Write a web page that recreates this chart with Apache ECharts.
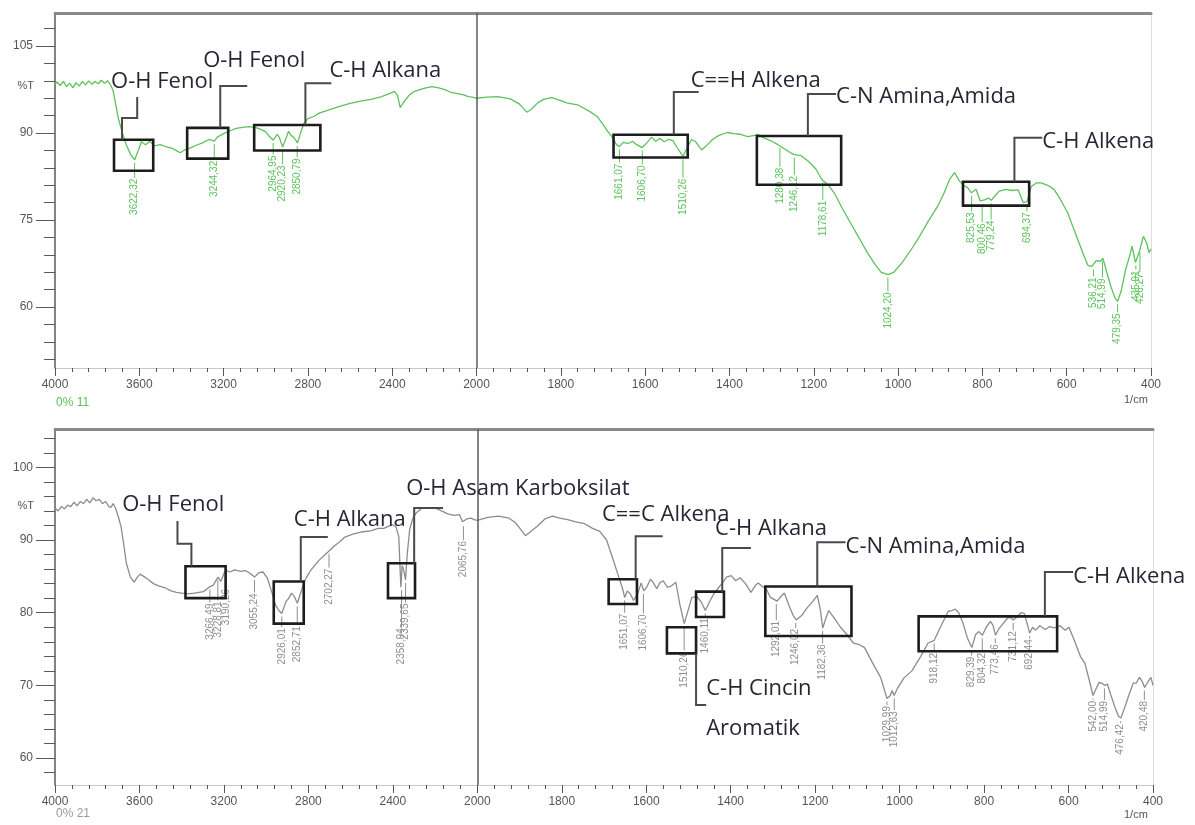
<!DOCTYPE html>
<html><head><meta charset="utf-8">
<script src="https://cdn.jsdelivr.net/npm/echarts@6/dist/echarts.min.js"></script>
<style>html,body{margin:0;padding:0;background:#fff}#c{width:1195px;height:825px}</style>
</head><body><div id="c"></div>
<script>
// ---------- DATA ----------
const topSpectrum = [
[4000,98.4],[3990,98.8],[3975,98.2],[3960,98.9],[3945,98.0],[3930,98.6],[3915,97.8],[3900,98.7],[3885,98.1],[3870,98.9],[3855,98.3],[3840,99.0],[3825,98.4],[3810,98.9],[3795,98.5],[3780,99.1],[3765,98.6],[3750,99.0],[3735,98.2],[3725,97.4],[3715,95.5],[3700,92.6],[3680,90.0],[3660,87.8],[3640,86.2],[3622,85.4],[3605,87.0],[3590,88.5],[3570,88.0],[3550,88.6],[3530,87.8],[3500,88.0],[3470,87.6],[3440,87.3],[3420,86.9],[3405,86.6],[3390,87.0],[3360,87.4],[3330,87.9],[3300,88.3],[3270,88.9],[3244,88.6],[3230,89.3],[3200,89.9],[3170,90.4],[3140,90.8],[3110,91.0],[3080,91.1],[3050,91.0],[3020,90.6],[3000,90.2],[2985,89.5],[2965,88.8],[2945,89.8],[2935,89.2],[2920,87.6],[2905,89.0],[2892,90.3],[2880,89.6],[2865,89.2],[2850,88.3],[2835,90.0],[2820,91.6],[2800,92.5],[2770,92.9],[2750,93.4],[2700,94.0],[2650,94.6],[2600,95.1],[2550,95.5],[2500,95.8],[2450,96.3],[2420,96.7],[2390,97.2],[2375,96.5],[2362,94.4],[2345,95.4],[2320,96.5],[2300,97.1],[2270,97.5],[2240,97.8],[2210,98.0],[2180,97.8],[2150,97.5],[2120,97.0],[2090,96.8],[2060,96.6],[2040,96.3],[2020,96.2],[2000,96.0],[1975,96.2],[1950,96.3],[1920,95.9],[1898,95.0],[1881,93.6],[1870,94.1],[1855,95.2],[1841,95.8],[1822,96.1],[1800,95.6],[1786,95.2],[1758,94.8],[1731,93.7],[1713,92.8],[1700,91.5],[1690,90.4],[1678,89.3],[1668,88.0],[1661,87.7],[1652,88.4],[1640,88.2],[1630,88.6],[1620,88.0],[1607,87.5],[1595,88.4],[1585,89.3],[1575,88.6],[1565,89.1],[1555,88.5],[1545,88.9],[1534,88.7],[1525,87.6],[1515,86.5],[1510,86.0],[1500,87.5],[1490,88.9],[1480,88.5],[1466,87.1],[1455,87.8],[1440,88.9],[1425,89.6],[1405,90.1],[1390,89.9],[1375,89.8],[1357,89.4],[1340,89.6],[1333,89.8],[1320,89.2],[1300,88.6],[1285,88.0],[1270,87.3],[1255,86.6],[1246,86.3],[1230,86.1],[1212,85.1],[1195,83.8],[1181,82.0],[1165,81.0],[1150,79.5],[1130,76.7],[1108,73.9],[1090,71.6],[1073,69.4],[1055,67.4],[1040,66.0],[1024,65.6],[1010,66.0],[990,67.7],[970,69.8],[953,71.7],[930,74.6],[906,77.4],[890,79.8],[878,82.0],[866,83.2],[855,81.8],[845,81.0],[835,80.6],[826,79.7],[815,80.3],[805,78.3],[795,78.5],[785,78.8],[779,78.4],[770,79.2],[760,80.0],[745,80.3],[730,80.1],[715,80.2],[703,78.0],[694,78.2],[684,80.8],[672,81.4],[661,81.4],[645,81.0],[630,80.3],[615,78.6],[598,76.3],[586,74.0],[574,71.7],[562,69.4],[550,67.2],[540,67.0],[530,68.0],[520,67.9],[514,68.4],[505,66.0],[495,63.5],[485,61.5],[479,61.0],[470,63.0],[460,66.5],[450,69.0],[445,70.5],[437,67.7],[428,69.5],[418,72.2],[410,71.0],[405,69.4],[400,70.0]
];
const bottomSpectrum = [
[4000,94.4],[3985,94.0],[3970,94.6],[3955,94.3],[3940,94.8],[3925,94.6],[3910,95.2],[3895,94.7],[3880,95.3],[3865,95.0],[3850,95.6],[3835,95.1],[3820,95.8],[3805,95.4],[3790,95.6],[3775,95.0],[3760,95.3],[3745,94.6],[3734,94.5],[3725,95.0],[3715,94.5],[3700,93.2],[3687,91.8],[3675,89.5],[3662,86.8],[3643,84.9],[3625,84.2],[3610,84.9],[3597,85.3],[3580,85.0],[3560,84.6],[3534,84.0],[3510,83.7],[3477,83.4],[3450,83.0],[3425,82.8],[3400,82.7],[3370,82.6],[3340,82.7],[3297,82.9],[3266,83.6],[3250,83.8],[3240,84.3],[3228,84.9],[3215,84.3],[3200,85.4],[3190,85.8],[3170,85.6],[3150,85.9],[3120,85.7],[3098,85.8],[3075,85.4],[3055,84.9],[3035,85.5],[3015,85.6],[2995,84.8],[2975,83.0],[2955,81.0],[2940,80.3],[2926,79.9],[2915,80.8],[2905,81.6],[2895,81.9],[2880,82.7],[2866,82.2],[2852,81.3],[2838,82.6],[2820,84.2],[2808,84.9],[2790,85.8],[2770,86.5],[2750,87.2],[2720,88.0],[2702,88.5],[2680,89.1],[2650,89.8],[2627,90.4],[2590,90.8],[2550,91.1],[2500,91.3],[2470,91.6],[2442,91.6],[2420,91.9],[2400,92.1],[2385,91.8],[2372,90.5],[2362,83.5],[2356,86.5],[2348,85.8],[2340,84.5],[2332,88.0],[2320,91.5],[2305,93.0],[2290,93.7],[2262,94.4],[2230,94.4],[2200,94.4],[2170,94.0],[2140,93.6],[2110,93.4],[2085,93.5],[2070,92.5],[2062,92.3],[2050,92.9],[2030,93.0],[2015,92.8],[2000,92.7],[1975,93.1],[1950,93.3],[1925,93.0],[1910,92.4],[1895,91.3],[1886,90.6],[1875,91.1],[1858,91.9],[1840,92.9],[1822,93.3],[1805,93.0],[1786,92.8],[1767,92.5],[1748,92.3],[1727,91.6],[1710,91.2],[1694,90.0],[1680,87.6],[1665,84.9],[1657,83.5],[1651,82.1],[1645,83.0],[1638,82.6],[1630,81.7],[1620,82.6],[1612,84.1],[1606,83.0],[1598,83.6],[1590,84.6],[1584,84.2],[1575,83.3],[1568,84.1],[1560,84.4],[1550,83.5],[1540,83.7],[1530,84.2],[1520,81.0],[1510,78.5],[1500,80.5],[1492,82.1],[1480,82.2],[1470,81.5],[1460,80.3],[1450,81.5],[1440,82.6],[1428,83.5],[1418,84.2],[1410,84.9],[1399,85.1],[1388,84.4],[1378,84.8],[1365,84.0],[1352,82.8],[1342,83.7],[1335,84.1],[1325,83.6],[1315,83.2],[1306,82.1],[1290,81.6],[1280,82.3],[1273,82.7],[1262,81.0],[1252,79.6],[1245,79.0],[1232,79.6],[1220,80.6],[1205,81.6],[1195,82.4],[1188,80.5],[1182,77.9],[1176,79.0],[1168,80.3],[1155,79.3],[1140,78.0],[1125,77.0],[1109,75.8],[1095,75.6],[1083,75.2],[1065,73.2],[1045,71.1],[1035,69.2],[1030,68.2],[1022,68.6],[1018,69.3],[1013,68.6],[1005,69.6],[990,71.0],[971,72.0],[950,74.0],[933,75.8],[918,76.2],[910,77.2],[895,79.0],[885,80.2],[876,80.3],[868,80.5],[860,80.0],[850,78.6],[840,76.6],[829,75.2],[820,77.0],[812,77.4],[804,76.9],[795,78.0],[785,78.8],[779,78.3],[773,76.9],[765,77.8],[755,78.5],[745,79.2],[739,79.4],[731,79.0],[722,79.4],[713,80.0],[705,79.9],[698,78.5],[692,77.2],[685,78.0],[678,77.6],[668,78.2],[655,77.7],[645,78.1],[634,77.9],[620,78.2],[608,77.6],[599,78.0],[585,76.0],[572,74.0],[561,73.0],[550,70.5],[542,68.6],[535,69.5],[528,70.4],[521,70.3],[514,70.0],[508,70.2],[500,68.7],[490,67.0],[482,65.8],[476,65.5],[468,66.8],[458,68.5],[447,70.3],[440,70.3],[432,71.1],[425,70.5],[420,69.7],[412,70.5],[405,71.1],[400,70.0]
];
// peak labels: [text, wavenumber, %T at peak, %T at top of label]
const topPeaks = [
['3622,32',3622.32,85.4,82.3],['3244,32',3244.32,88.6,85.4],['2964,95',2964.95,88.8,86.3],['2920,23',2920.23,87.6,84.6],['2850,79',2850.79,88.3,85.8],
['1661,07',1661.07,87.7,84.9],['1606,70',1606.70,87.5,84.6],['1510,26',1510.26,86.0,82.3],['1280,38',1280.38,88.0,84.2],['1246,12',1246.12,86.3,82.8],['1178,61',1178.61,82.0,78.5],
['1024,20',1024.20,65.6,62.7],['825,53',825.53,79.7,76.5],['800,46',800.46,78.3,74.6],['779,24',779.24,78.4,75.1],['694,37',694.37,78.2,76.5],
['536,21',536.21,67.0,65.3],['514,99',514.99,68.4,65.1],['479,35',479.35,61.0,59.1],['435,91',435.91,67.7,66.5],['426,27',426.27,70.0,66.0]
];
const bottomPeaks = [
['3266,49',3266.49,83.6,81.4],['3228,81',3228.81,84.9,81.7],['3190,26',3190.26,85.8,83.4],['3055,24',3055.24,84.9,82.8],['2926,01',2926.01,79.9,78.0],['2852,71',2852.71,81.3,78.3],
['2702,27',2702.27,88.5,86.2],['2358,94',2358.94,83.5,78.0],['2339,65',2339.65,84.5,81.4],['2065,76',2065.76,92.3,90.0],
['1651,07',1651.07,82.1,80.0],['1606,70',1606.70,83.0,79.9],['1510,26',1510.26,78.5,74.8],['1460,11',1460.11,80.3,79.4],['1292,01',1292.01,81.6,79.0],['1246,02',1246.02,79.0,77.9],['1182,36',1182.36,77.9,75.8],
['1029,99',1029.99,68.2,67.3],['1012,63',1012.63,68.6,66.6],['918,12',918.12,76.2,74.6],['829,39',829.39,75.2,74.1],['804,32',804.32,76.9,74.6],['773,46',773.46,76.9,75.8],['731,12',731.12,79.0,77.6],['692,44',692.44,77.2,76.5],
['542,00',542.00,68.6,68.0],['514,99',514.99,70.0,68.0],['476,42',476.42,65.5,64.8],['420,48',420.48,69.7,68.0]
];
// annotation boxes: [w1, %T1, w2, %T2]
const topBoxes = [[3720,88.85,3534,83.5],[3373,90.9,3178,85.6],[3055,91.4,2741,87.0],[1675,89.7,1499,85.8],[1335,89.5,1135,81.1],[846,81.6,689,77.5]];
const bottomBoxes = [[3382,86.4,3192,82.0],[2964,84.3,2822,78.5],[2423,86.8,2295,82.0],[1689,84.6,1622,81.2],[1551,78.0,1482,74.4],[1482,82.9,1416,79.4],[1318,83.6,1114,76.8],[955,79.5,627,74.7]];
// leader lines: list of [w, %T] points
const topLeaders = [
[[3682,88.85],[3682,92.6],[3610,92.6],[3610,96.2]],
[[3216,90.9],[3216,98.1],[3088,98.1]],
[[2812,91.4],[2812,98.6],[2689,98.6]],
[[1532,89.7],[1532,97.1],[1473,97.1]],
[[1214,89.5],[1214,96.75],[1147,96.75]],
[[724,81.6],[724,89.2],[658,89.2]]
];
const bottomLeaders = [
[[3354,86.4],[3354,89.5],[3420,89.5],[3420,92.6]],
[[2836,84.3],[2836,90.4],[2708,90.4]],
[[2299,86.8],[2299,94.4],[2162,94.4]],
[[1625,84.6],[1625,90.5],[1561,90.5]],
[[1482,74.4],[1482,67.3],[1458,67.3]],
[[1420,82.9],[1420,88.9],[1352,88.9]],
[[1195,83.6],[1195,89.7],[1128,89.7]],
[[656,79.5],[656,85.6],[589,85.6]]
];
// annotation texts: [text, w at left edge, %T at middle]
const topNotes = [['O-H Fenol',3734,98.8],['O-H Fenol',3297,102.4],['C-H Alkana',2698,100.7],['C==H Alkena',1492,99.0],['C-N Amina,Amida',1147,96.2],['C-H Alkena',658,88.5]];
const bottomNotes = [['O-H Fenol',3682,94.9],['C-H Alkana',2869,92.85],['O-H Asam Karboksilat',2337,97.1],['C==C Alkena',1705,93.5],['C-H Alkana',1437,91.5],['C-N Amina,Amida',1128,89.1],['C-H Alkena',589,85.0],['C-H Cincin',1458,69.5],['Aromatik',1458,64.0]];
// axis ranges and ticks
const xTickLabels = [4000,3600,3200,2800,2400,2000,1800,1600,1400,1200,1000,800,600,400];
const topYRange = [49.5,110.7];
const topYLabels = [60,75,90,105];
const topYMinor = [51,54,57,63,66,69,72,78,81,84,87,93,96,99,102,108];
const bottomYRange = [56.3,105.27];
const bottomYLabels = [60,70,80,90,100];
const bottomYMinor = [58,62,64,66,68,72,74,76,78,82,84,86,88,92,94,96,98,102,104];

// ---------- SCALE (piecewise wavenumber axis: 2x expanded below 2000) ----------
const toT = w => w >= 2000 ? (2000 - w) / 2 : 2000 - w;
const fromT = t => t < 0 ? 2000 - 2 * t : 2000 - t;

const GREEN = '#5cc25c', GRAY = '#8c8c8c', INK = '#555';
const NOTE_FONT = '22px "Open Sans"';
const PEAK_FONT = '10px "Liberation Sans", Arial';

function xAxes(gi) {
  return [{
    gridIndex: gi, type: 'value', min: toT(4000), max: toT(400), interval: 200,
    axisLine: {show: true, onZero: false, lineStyle: {color: '#c8c8c8', width: 1}},
    axisTick: {show: true, length: 8, lineStyle: {color: INK}},
    minorTick: {show: true, splitNumber: 5, length: 4, lineStyle: {color: INK}},
    axisLabel: {color: INK, fontSize: 12, margin: 11, fontFamily: 'Liberation Sans',
      formatter: v => { const w = Math.round(fromT(v)); return xTickLabels.indexOf(w) >= 0 ? String(w) : ''; }},
    splitLine: {show: false}, minorSplitLine: {show: false}
  }, {
    gridIndex: gi, type: 'value', position: 'top', min: toT(4000), max: toT(400),
    axisLine: {show: true, onZero: false, lineStyle: {color: '#8a8a8a', width: 3}},
    axisTick: {show: false}, axisLabel: {show: false}, splitLine: {show: false}
  }];
}
function yAxes(gi, range, labels, minor) {
  return [{
    gridIndex: gi, type: 'value', position: 'left', min: range[0], max: range[1],
    axisLine: {show: true, onZero: false, lineStyle: {color: '#5a5a5a', width: 1.5}},
    axisTick: {show: true, length: 19, customValues: labels, lineStyle: {color: '#5a5a5a'}},
    axisLabel: {customValues: labels, margin: 22, color: INK, fontSize: 12, fontFamily: 'Liberation Sans'},
    splitLine: {show: false}
  }, {
    gridIndex: gi, type: 'value', position: 'left', offset: 0, min: range[0], max: range[1],
    axisLine: {show: false, onZero: false},
    axisTick: {show: true, length: 11, customValues: minor, lineStyle: {color: '#5a5a5a'}},
    axisLabel: {show: false}, splitLine: {show: false}
  }, {
    gridIndex: gi, type: 'value', position: 'right', min: range[0], max: range[1],
    axisLine: {show: true, onZero: false, lineStyle: {color: '#dedede'}},
    axisTick: {show: false}, axisLabel: {show: false}, splitLine: {show: false}
  }];
}

function spectrumSeries(data, xi, yi, color) {
  return {
    type: 'line', xAxisIndex: xi, yAxisIndex: yi, symbol: 'none', silent: true,
    data: data.map(p => [toT(p[0]), p[1]]),
    lineStyle: {color: color, width: 1.3},
    markLine: {silent: true, symbol: 'none', label: {show: false},
      lineStyle: {color: '#5a5a5a', width: 1.5, type: 'solid'}, data: [{xAxis: 0}]}
  };
}
function peakSeries(peaks, xi, yi, color) {
  return {
    type: 'custom', xAxisIndex: xi, yAxisIndex: yi, silent: true, z: 4,
    data: peaks.map(p => [toT(p[1]), p[2], p[3]]),
    encode: {x: 0, y: [1, 2]},
    renderItem: (params, api) => {
      const p = peaks[params.dataIndex];
      const a = api.coord([api.value(0), api.value(1)]);
      const b = api.coord([api.value(0), api.value(2)]);
      const kids = [];
      if (b[1] > a[1] + 3) kids.push({type: 'line', shape: {x1: a[0], y1: a[1] + 3, x2: b[0], y2: b[1]}, style: {stroke: color, lineWidth: 1}});
      kids.push({type: 'text', x: b[0], y: b[1] + 1, rotation: Math.PI / 2,
        style: {text: p[0], fill: color, font: PEAK_FONT, align: 'right', verticalAlign: 'middle'}});
      return {type: 'group', children: kids};
    }
  };
}
function boxSeries(boxes, xi, yi) {
  return {
    type: 'custom', xAxisIndex: xi, yAxisIndex: yi, silent: true, z: 6,
    data: boxes.map(b => [toT(b[0]), b[1], toT(b[2]), b[3]]),
    encode: {x: [0, 2], y: [1, 3]},
    renderItem: (params, api) => {
      const p1 = api.coord([api.value(0), api.value(1)]);
      const p2 = api.coord([api.value(2), api.value(3)]);
      return {type: 'rect', shape: {x: Math.min(p1[0], p2[0]), y: Math.min(p1[1], p2[1]),
        width: Math.abs(p2[0] - p1[0]), height: Math.abs(p2[1] - p1[1])},
        style: {fill: 'none', stroke: '#1c1c1c', lineWidth: 2.6}};
    }
  };
}
function leaderSeries(leaders, xi, yi) {
  return {
    type: 'custom', xAxisIndex: xi, yAxisIndex: yi, silent: true, z: 6,
    data: leaders.map(l => [toT(l[0][0]), l[0][1]]),
    encode: {x: 0, y: 1},
    renderItem: (params, api) => {
      const pts = leaders[params.dataIndex].map(q => api.coord([toT(q[0]), q[1]]));
      return {type: 'polyline', shape: {points: pts}, style: {fill: 'none', stroke: '#4a4a4a', lineWidth: 2}};
    }
  };
}
function noteSeries(notes, xi, yi) {
  return {
    type: 'custom', xAxisIndex: xi, yAxisIndex: yi, silent: true, z: 7,
    data: notes.map(n => [toT(n[1]), n[2]]),
    encode: {x: 0, y: 1},
    renderItem: (params, api) => {
      const c = api.coord([api.value(0), api.value(1)]);
      return {type: 'text', x: c[0], y: c[1],
        style: {text: notes[params.dataIndex][0], fill: '#262634', font: NOTE_FONT, align: 'left', verticalAlign: 'middle'}};
    }
  };
}

const chart = echarts.init(document.getElementById('c'), null, {renderer: 'canvas'});
chart.setOption({
  animation: false,
  backgroundColor: '#ffffff',
  grid: [
    {left: 55, right: 44, top: 13, height: 355},
    {left: 55, right: 42, top: 429, height: 356}
  ],
  xAxis: [...xAxes(0), ...xAxes(1)],
  yAxis: [...yAxes(0, topYRange, topYLabels, topYMinor), ...yAxes(1, bottomYRange, bottomYLabels, bottomYMinor)],
  series: [
    spectrumSeries(topSpectrum, 0, 0, GREEN),
    peakSeries(topPeaks, 0, 0, GREEN),
    boxSeries(topBoxes, 0, 0),
    leaderSeries(topLeaders, 0, 0),
    noteSeries(topNotes, 0, 0),
    spectrumSeries(bottomSpectrum, 2, 3, GRAY),
    peakSeries(bottomPeaks, 2, 3, '#8e8e8e'),
    boxSeries(bottomBoxes, 2, 3),
    leaderSeries(bottomLeaders, 2, 3),
    noteSeries(bottomNotes, 2, 3)
  ],
  graphic: [
    {type: 'text', right: 1195 - 34, top: 80, style: {text: '%T', fill: INK, font: '11px "Liberation Sans"'}},
    {type: 'text', right: 1195 - 34, top: 500, style: {text: '%T', fill: INK, font: '11px "Liberation Sans"'}},
    {type: 'text', left: 56, top: 397, style: {text: '0% 11', fill: GREEN, font: '12px "Liberation Sans"'}},
    {type: 'text', left: 56, top: 808, style: {text: '0% 21', fill: '#9a9a9a', font: '12px "Liberation Sans"'}},
    {type: 'text', left: 1124, top: 394, style: {text: '1/cm', fill: INK, font: '11px "Liberation Sans"'}},
    {type: 'text', left: 1124, top: 809, style: {text: '1/cm', fill: INK, font: '11px "Liberation Sans"'}}
  ]
});
</script></body></html>
